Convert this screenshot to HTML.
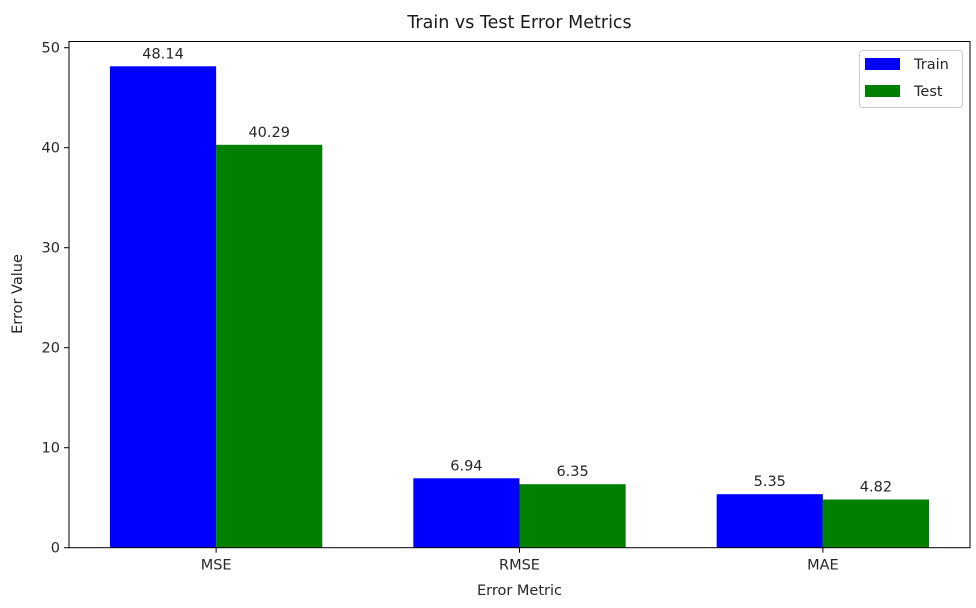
<!DOCTYPE html>
<html><head><meta charset="utf-8"><style>
body{margin:0;background:#fff;}
text{font-family:"DejaVu Sans","Liberation Sans",sans-serif;fill:#262626;}
</style></head><body>
<svg id="chart" width="976" height="603" xmlns="http://www.w3.org/2000/svg">
<rect width="976" height="603" fill="#fff"/>
<g id="marks"></g>
<g id="axes"></g>
</svg>
<script>
const categories=["MSE","RMSE","MAE"];
const trainValues=[48.14,6.94,5.35];
const testValues=[40.29,6.35,4.82];
const yTicks=[0,10,20,30,40,50];
const NS="http://www.w3.org/2000/svg";
const L=69,R=970,T=41.5,B=547.7;
const xMin=-0.485,xMax=2.485;
function xs(v){return L+(v-xMin)/(xMax-xMin)*(R-L);}
function ys(v){return B-v*10;}
function mk(tag,attrs,parent,txt){const e=document.createElementNS(NS,tag);for(const k in attrs)e.setAttribute(k,attrs[k]);if(txt!==undefined)e.textContent=txt;parent.appendChild(e);return e;}
const marks=document.getElementById('marks'),axes=document.getElementById('axes');
const w=0.35;
categories.forEach((c,i)=>{
  [[trainValues,"#0000ff",-w,"train"],[testValues,"#008000",0,"test"]].forEach(([arr,col,off,nm])=>{
    const x0=xs(i+off),x1=xs(i+off+w),y=ys(arr[i]);
    const r=mk('rect',{x:x0,y:y,width:x1-x0,height:B-y,fill:col},marks);
    
    
    const t=mk('text',{x:(x0+x1)/2,y:y-8,'text-anchor':'middle','font-size':'14.5'},marks,arr[i].toFixed(2));
    
    
  });
  const tx=xs(i);
  mk('line',{x1:tx,x2:tx,y1:B,y2:B+5,stroke:'#000'},axes);
  const tl=mk('text',{x:tx,y:B+22,'text-anchor':'middle','font-size':'14.5'},axes,c);
  
  
});
yTicks.forEach(v=>{
  const y=ys(v);
  mk('line',{x1:L-5,x2:L,y1:y,y2:y,stroke:'#000'},axes);
  const tl=mk('text',{x:L-9,y:y+5,'text-anchor':'end','font-size':'14.5'},axes,String(v));
  
  
});
const frame=mk('rect',{x:L,y:T,width:R-L,height:B-T,fill:'none',stroke:'#000','stroke-width':1},axes);


</script>
<svg style="position:absolute;left:0;top:0" width="976" height="603" xmlns="http://www.w3.org/2000/svg">
<text x="519.5" y="28" text-anchor="middle" font-size="17.5" style="font-family:'DejaVu Sans',sans-serif;fill:#1a1a1a">Train vs Test Error Metrics</text>
<text x="519.5" y="595" text-anchor="middle" font-size="14.5" style="font-family:'DejaVu Sans',sans-serif;fill:#262626">Error Metric</text>
<text transform="translate(22,294) rotate(-90)" text-anchor="middle" font-size="14.5" style="font-family:'DejaVu Sans',sans-serif;fill:#262626">Error Value</text>
<g>
<rect x="859.5" y="50.5" width="103" height="57" rx="3" fill="#fff" stroke="#ccc"/>
<rect x="865" y="58" width="35" height="12" fill="#0000ff"/>
<text x="914" y="69" font-size="14.5" style="font-family:'DejaVu Sans',sans-serif;fill:#262626">Train</text>
<rect x="865" y="85" width="35" height="12" fill="#008000"/>
<text x="914" y="96" font-size="14.5" style="font-family:'DejaVu Sans',sans-serif;fill:#262626">Test</text>
</g>
</svg>
</body></html>
